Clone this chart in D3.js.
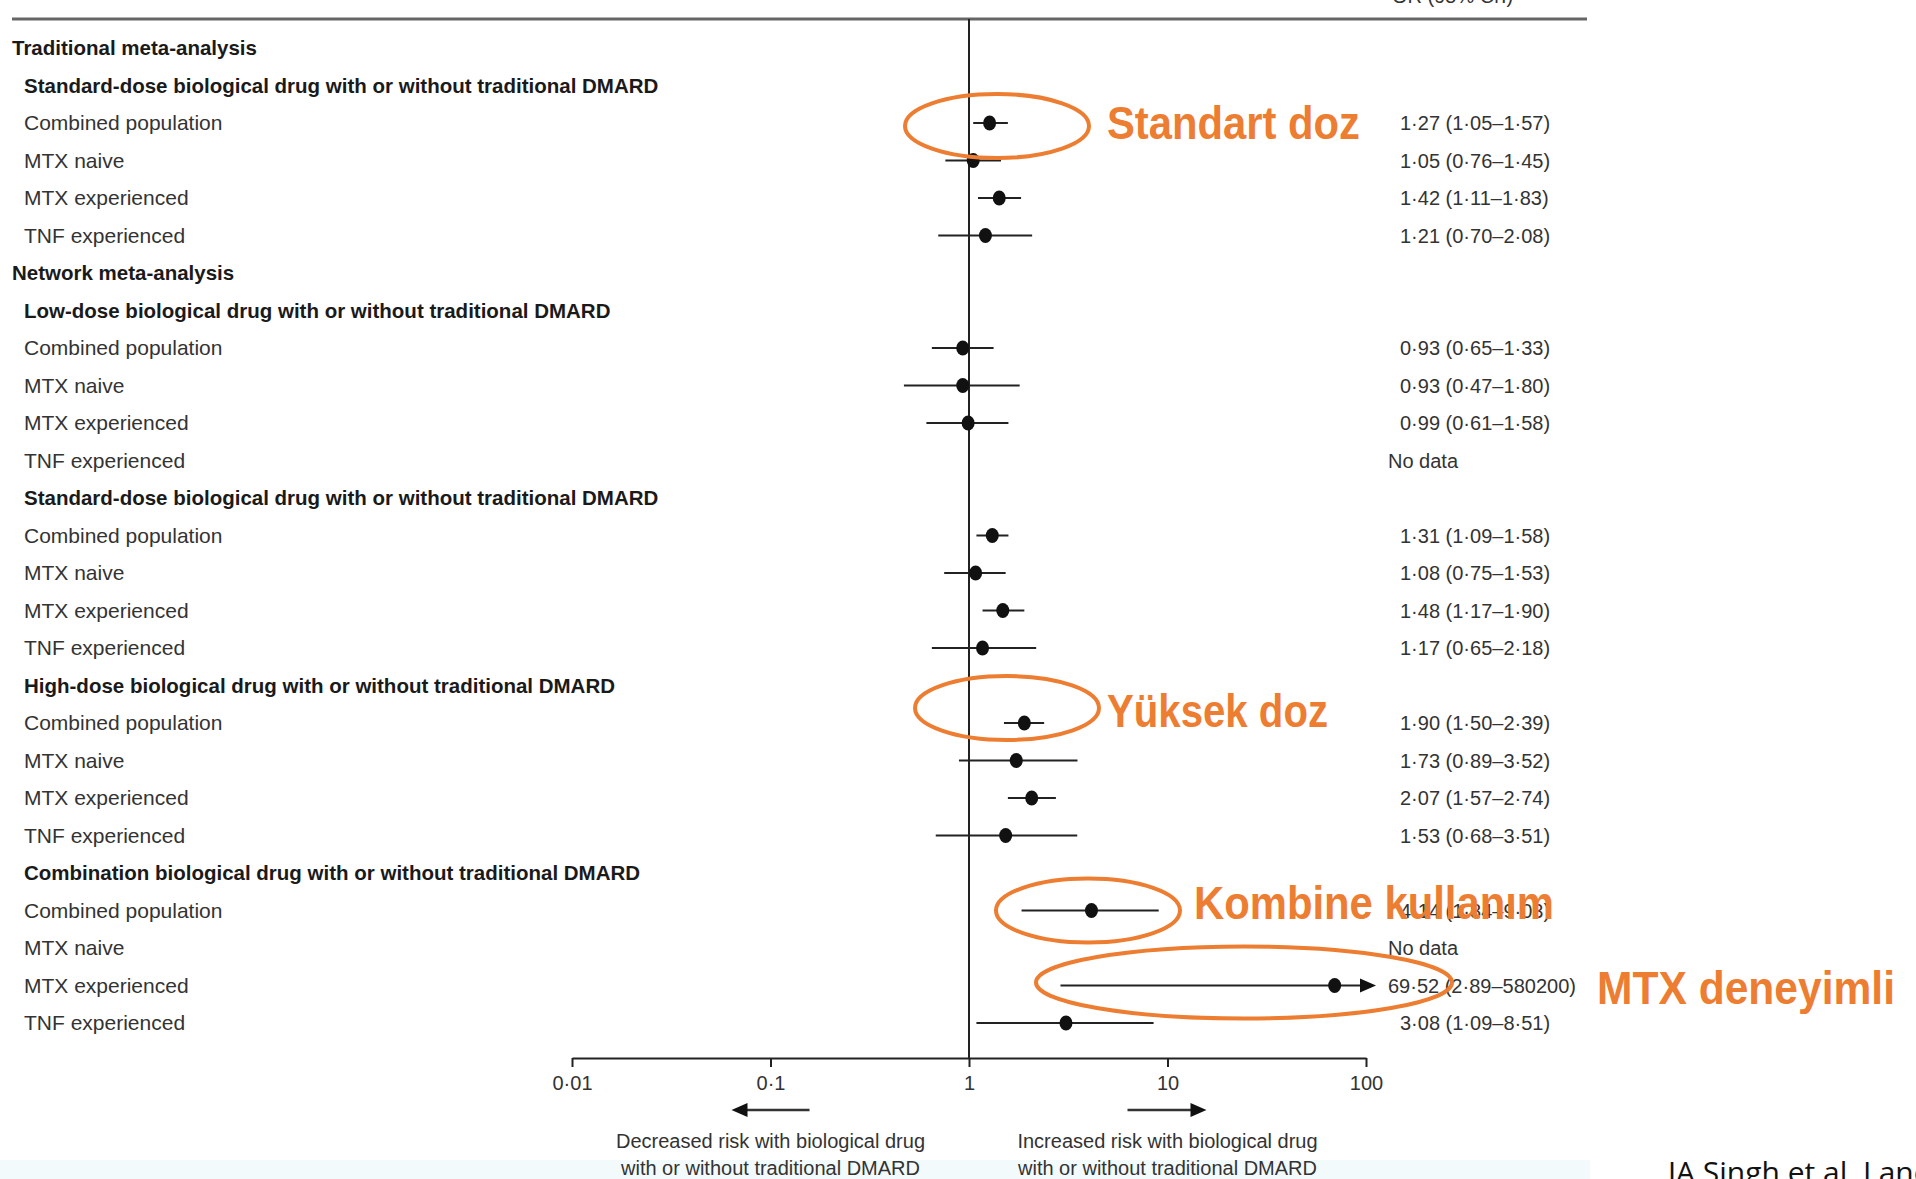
<!DOCTYPE html>
<html>
<head>
<meta charset="utf-8">
<script src="https://cdn.jsdelivr.net/npm/d3@7"></script>
<style>
  html, body { margin: 0; padding: 0; background: #fff; overflow: hidden; }
  svg { display: block; }
  .lbl { font-family: "Liberation Sans", Arial, sans-serif; font-size: 21px; fill: #333; }
  .lbl.bold { font-weight: bold; font-size: 20.5px; fill: #1a1a1a; }
  .cap { font-family: "Liberation Sans", Arial, sans-serif; font-size: 20px; fill: #333; }
  .val { font-family: "Liberation Sans", Arial, sans-serif; font-size: 20px; fill: #333; }
  .axis text { font-family: "Liberation Sans", Arial, sans-serif; font-size: 20px; fill: #333; }
  .axis path, .axis line { stroke: #222; stroke-width: 2; }
  .note { font-family: "Liberation Sans Narrow", "Liberation Sans", sans-serif; font-weight: bold; fill: #ed7d31; }
</style>
</head>
<body>
<div id="chart"></div>
<script>
// rows of the forest plot, top to bottom
const rowLabels = [
  'Traditional meta-analysis',
  'Standard-dose biological drug with or without traditional DMARD',
  'Combined population', 'MTX naive', 'MTX experienced', 'TNF experienced',
  'Network meta-analysis',
  'Low-dose biological drug with or without traditional DMARD',
  'Combined population', 'MTX naive', 'MTX experienced', 'TNF experienced',
  'Standard-dose biological drug with or without traditional DMARD',
  'Combined population', 'MTX naive', 'MTX experienced', 'TNF experienced',
  'High-dose biological drug with or without traditional DMARD',
  'Combined population', 'MTX naive', 'MTX experienced', 'TNF experienced',
  'Combination biological drug with or without traditional DMARD',
  'Combined population', 'MTX naive', 'MTX experienced', 'TNF experienced'
];
// 0 = section, 1 = group, 2 = item
const rowLevels = [0, 1, 2, 2, 2, 2, 0, 1, 2, 2, 2, 2, 1, 2, 2, 2, 2, 1, 2, 2, 2, 2, 1, 2, 2, 2, 2];

const estimates = [null, null, 1.27, 1.05, 1.42, 1.21, null, null, 0.93, 0.93, 0.99, null, null,
  1.31, 1.08, 1.48, 1.17, null, 1.90, 1.73, 2.07, 1.53, null, 4.14, null, 69.52, 3.08];
const lowers = [null, null, 1.05, 0.76, 1.11, 0.70, null, null, 0.65, 0.47, 0.61, null, null,
  1.09, 0.75, 1.17, 0.65, null, 1.50, 0.89, 1.57, 0.68, null, 1.84, null, 2.89, 1.09];
const uppers = [null, null, 1.57, 1.45, 1.83, 2.08, null, null, 1.33, 1.80, 1.58, null, null,
  1.58, 1.53, 1.90, 2.18, null, 2.39, 3.52, 2.74, 3.51, null, 9.03, null, 580200, 8.51];
const valueTexts = ['', '', '1·27 (1·05–1·57)', '1·05 (0·76–1·45)', '1·42 (1·11–1·83)', '1·21 (0·70–2·08)',
  '', '', '0·93 (0·65–1·33)', '0·93 (0·47–1·80)', '0·99 (0·61–1·58)', 'No data',
  '', '1·31 (1·09–1·58)', '1·08 (0·75–1·53)', '1·48 (1·17–1·90)', '1·17 (0·65–2·18)',
  '', '1·90 (1·50–2·39)', '1·73 (0·89–3·52)', '2·07 (1·57–2·74)', '1·53 (0·68–3·51)',
  '', '4·14 (1·84–9·03)', 'No data', '69·52 (2·89–580200)', '3·08 (1·09–8·51)'];

const xTicks = [0.01, 0.1, 1, 10, 100];
const xTickLabels = ['0·01', '0·1', '1', '10', '100'];

// orange call-outs added on the slide
const noteTexts = ['Standart doz', 'Yüksek doz', 'Kombine kullanım', 'MTX deneyimli'];
const noteRows = [2, 18, 23, 25];

const width = 1916;
const height = 1179;

const svg = d3.select('#chart')
  .append('svg')
  .attr('width', width)
  .attr('height', height)
  .attr('viewBox', `0 0 ${width} ${height}`);

// faint band at the bottom of the slide
svg.append('rect')
  .attr('x', 0).attr('y', 1160).attr('width', 1590).attr('height', 19)
  .attr('fill', '#f3fafb');

const x = d3.scaleLog().domain([0.01, 100]).range([572, 1366]);
const y = d3.scalePoint().domain(d3.range(rowLabels.length)).range([48, 1023]);
const axisY = 1058;
const topY = 19;

// column header, cut off by the top of the slide
svg.append('text')
  .attr('class', 'val')
  .attr('x', 1392).attr('y', 3)
  .text('OR (95% CrI)');

// top rule
svg.append('line')
  .attr('x1', 12).attr('x2', 1587)
  .attr('y1', topY).attr('y2', topY)
  .attr('stroke', '#666').attr('stroke-width', 3);

// line of no effect
svg.append('line')
  .attr('x1', x(1)).attr('x2', x(1))
  .attr('y1', topY).attr('y2', axisY)
  .attr('stroke', '#222').attr('stroke-width', 2);

// row labels
svg.append('g')
  .selectAll('text')
  .data(rowLabels)
  .join('text')
  .attr('class', (d, i) => rowLevels[i] < 2 ? 'lbl bold' : 'lbl')
  .attr('x', (d, i) => rowLevels[i] === 0 ? 12 : 24)
  .attr('y', (d, i) => y(i))
  .attr('dy', '0.35em')
  .text(d => d);

// estimate column
svg.append('g')
  .selectAll('text')
  .data(valueTexts)
  .join('text')
  .attr('class', 'val')
  .attr('x', (d, i) => (estimates[i] >= 10 || d === 'No data') ? 1388 : 1400)
  .attr('y', (d, i) => y(i))
  .attr('dy', '0.35em')
  .text(d => d);

// confidence intervals and points
const rows = d3.range(rowLabels.length).filter(i => estimates[i] != null);
const xMax = x.domain()[1];

const ci = svg.append('g');
ci.selectAll('line')
  .data(rows)
  .join('line')
  .attr('x1', i => x(lowers[i]))
  .attr('x2', i => x(Math.min(uppers[i], xMax)))
  .attr('y1', i => y(i))
  .attr('y2', i => y(i))
  .attr('stroke', '#222')
  .attr('stroke-width', 2);

// arrow heads where the interval runs past the axis
ci.selectAll('path')
  .data(rows.filter(i => uppers[i] > xMax))
  .join('path')
  .attr('d', i => {
    const x0 = x(xMax) - 6, yy = y(i);
    return `M${x0},${yy - 7}L${x0 + 16},${yy}L${x0},${yy + 7}Z`;
  })
  .attr('fill', '#111');

svg.append('g')
  .selectAll('ellipse')
  .data(rows)
  .join('ellipse')
  .attr('cx', i => x(estimates[i]))
  .attr('cy', i => y(i))
  .attr('rx', 6.5)
  .attr('ry', 7.5)
  .attr('fill', '#111');

// axis
const xAxis = d3.axisBottom(x)
  .tickValues(xTicks)
  .tickFormat((d, i) => xTickLabels[i])
  .tickSize(9)
  .tickSizeOuter(0)
  .tickPadding(9);

svg.append('g')
  .attr('class', 'axis')
  .attr('transform', `translate(0, ${axisY})`)
  .call(xAxis);

// direction arrows and captions
const arrows = [
  { from: x(0.1) + 39, to: x(0.1) - 39, cx: x(0.1), lines: ['Decreased risk with biological drug', 'with or without traditional DMARD'] },
  { from: x(10) - 40, to: x(10) + 39, cx: x(10), lines: ['Increased risk with biological drug', 'with or without traditional DMARD'] }
];
const arrowY = 1110;
const dir = svg.append('g');
arrows.forEach(a => {
  const s = Math.sign(a.to - a.from);
  dir.append('line')
    .attr('x1', a.from).attr('x2', a.to - s * 14)
    .attr('y1', arrowY).attr('y2', arrowY)
    .attr('stroke', '#333').attr('stroke-width', 2.5);
  dir.append('path')
    .attr('d', `M${a.to},${arrowY}L${a.to - s * 16},${arrowY - 7}L${a.to - s * 16},${arrowY + 7}Z`)
    .attr('fill', '#111');
  a.lines.forEach((t, k) => {
    dir.append('text')
      .attr('class', 'cap')
      .attr('x', a.cx)
      .attr('y', 1148 + k * 27)
      .attr('text-anchor', 'middle')
      .text(t);
  });
});

// orange call-outs
const notes = svg.append('g');
const ellipses = [
  { cx: 997, cy: y(noteRows[0]) + 3, rx: 92, ry: 32, tx: 1107, ty: y(noteRows[0]) + 16, w: 253 },
  { cx: 1007, cy: y(noteRows[1]) - 15, rx: 92, ry: 32, tx: 1107, ty: y(noteRows[1]) + 4, w: 221 },
  { cx: 1088, cy: y(noteRows[2]), rx: 92, ry: 32, tx: 1194, ty: y(noteRows[2]) + 8, w: 360 },
  { cx: 1244, cy: y(noteRows[3]) - 3, rx: 208, ry: 36, tx: 1597, ty: y(noteRows[3]) + 18, w: 298 }
];
ellipses.forEach((e, k) => {
  notes.append('ellipse')
    .attr('cx', e.cx).attr('cy', e.cy)
    .attr('rx', e.rx).attr('ry', e.ry)
    .attr('fill', 'none')
    .attr('stroke', '#ed7d31')
    .attr('stroke-width', 4);
  notes.append('text')
    .attr('class', 'note')
    .attr('x', e.tx).attr('y', e.ty)
    .attr('font-size', 46)
    .attr('textLength', e.w)
    .attr('lengthAdjust', 'spacingAndGlyphs')
    .text(noteTexts[k]);
});

// source
svg.append('text')
  .attr('x', 1668).attr('y', 1183)
  .attr('font-family', '"Open Sans", "Liberation Sans", sans-serif')
  .attr('font-size', 30)
  .attr('fill', '#111')
  .text('JA Singh et al. Lancet 2015');
</script>
</body>
</html>
